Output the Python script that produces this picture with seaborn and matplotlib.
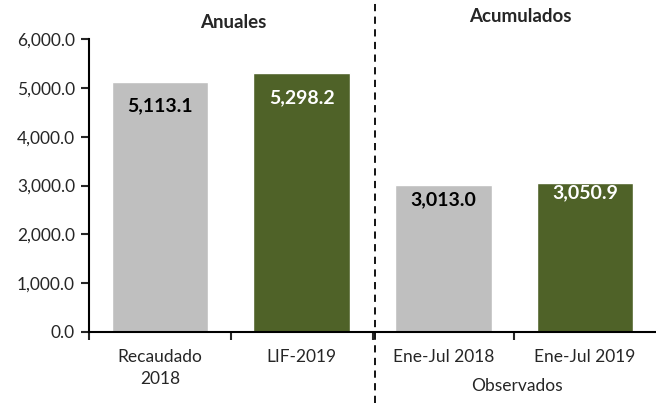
import pandas as pd
import matplotlib.pyplot as plt
import seaborn as sns
from matplotlib.lines import Line2D
from matplotlib.ticker import FuncFormatter

# datos
categorias = ['Recaudado\n2018', 'LIF-2019', 'Ene-Jul 2018', 'Ene-Jul 2019']
valores = [5113.1, 5298.2, 3013.0, 3050.9]
colores = ['#BFBFBF', '#4F6228', '#BFBFBF', '#4F6228']
grupos = ['Anuales', 'Acumulados']
nota = 'Observados'

df = pd.DataFrame({'cat': categorias, 'valor': valores})

sns.set_style('white')
plt.rcParams['font.family'] = ['Lato', 'DejaVu Sans']

fig = plt.figure(figsize=(6.56, 4.03), dpi=100)
ax = fig.add_axes([89 / 656, 71 / 403, 567 / 656, 293 / 403])

sns.barplot(data=df, x='cat', y='valor', hue='cat', palette=colores,
            legend=False, width=0.68, saturation=1, ax=ax)

ax.set_xlim(-0.5, 3.5)
ax.set_ylim(0, 6000)
ax.set_yticks(range(0, 6001, 1000))
ax.yaxis.set_major_formatter(FuncFormatter(lambda v, p: f'{v:,.1f}'))
ax.set_xlabel('')
ax.set_ylabel('')

for s in ['top', 'right']:
    ax.spines[s].set_visible(False)
for s in ['left', 'bottom']:
    ax.spines[s].set_linewidth(1.5)
    ax.spines[s].set_color('black')

ax.tick_params(axis='y', which='major', length=6, width=1.5, direction='out',
               left=True, labelsize=12.5, pad=4)
ax.tick_params(axis='x', which='major', length=0, labelsize=12.5, pad=12)
for t in ax.get_xticklabels():
    t.set_linespacing(1.45)
ax.set_xticks([-0.5, 0.5, 1.5, 2.5], minor=True)
ax.tick_params(axis='x', which='minor', length=6, width=1.5, bottom=True)

# etiquetas de valor
offsets = [-23, -24, -15, -10]
for i, (v, c) in enumerate(zip(valores, colores)):
    color_txt = 'white' if c == '#4F6228' else 'black'
    ax.annotate(f'{v:,.1f}', xy=(i, v), xytext=(0, offsets[i] * 0.72),
                textcoords='offset points', ha='center', va='center',
                fontsize=14, fontweight='bold', color=color_txt)

# encabezados y separador
fig.text(233 / 656, 1 - 22 / 403, grupos[0], ha='center', va='center',
         fontsize=13.5, fontweight='bold')
fig.text(520 / 656, 1 - 17 / 403, grupos[1], ha='center', va='center',
         fontsize=13.5, fontweight='bold')
fig.text(517 / 656, 1 - 386 / 403, nota, ha='center', va='center', fontsize=12.5)

fig.add_artist(Line2D([375 / 656, 375 / 656], [0, 1], transform=fig.transFigure,
                      color='black', linewidth=1.3, linestyle=(0, (4, 3))))

fig.savefig('out.png', dpi=100)
